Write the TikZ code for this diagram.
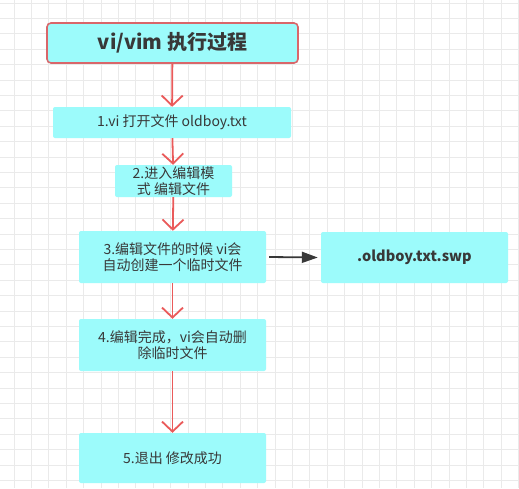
\documentclass[tikz,border=0pt]{standalone}
\usepackage{fontspec}
\setmainfont{Noto Sans CJK SC}
\usepackage{tikz}
\usetikzlibrary{arrows.meta}
\definecolor{boxcyan}{HTML}{9CFBFB}
\definecolor{flowred}{HTML}{EA5A5A}
\definecolor{titlered}{HTML}{D9666A}
\definecolor{textgray}{HTML}{383838}
\definecolor{gridgray}{HTML}{EAEAEA}

\begin{document}
\begin{tikzpicture}[x=1pt, y=-1pt,
	stepbox/.style={fill=boxcyan, rounded corners=2pt, text=textgray,
		inner sep=0pt, align=center, font=\fontsize{14}{16}\selectfont},
	titlebox/.style={stepbox, draw=titlered, line width=1.6pt, rounded corners=4pt,
		font=\fontsize{20}{24}\selectfont\bfseries},
	redarrow/.style={draw=flowred, line width=1.8pt,
		-{Straight Barb[length=10pt, width=21pt, line width=1.8pt]}},
	blackarrow/.style={draw=textgray, line width=1.8pt,
		-{Triangle[length=16pt, width=11pt]}}]
				\useasboundingbox (0,0) rectangle (519,488);
				\fill[white] (0,0) rectangle (519,488);
				% background grid
				\foreach \gx in {0,...,29}
					\draw[gridgray, line width=0.8pt] (14+17.4*\gx,0) -- (14+17.4*\gx,488);
				\foreach \gy in {0,...,31}
					\draw[gridgray, line width=0.8pt] (0,3+15.4*\gy) -- (519,3+15.4*\gy);
				% boxes
				\node[titlebox, minimum width=251pt, minimum height=40pt] (title) at (172.5,43) {vi/vim 执行过程};
				\node[stepbox, minimum width=238pt, minimum height=31pt] (open) at (172,122.5) {1.vi 打开文件 oldboy.txt};
				\node[stepbox, minimum width=117pt, minimum height=32pt] (edit) at (173.5,181) {2.进入编辑模\\式 编辑文件};
				\node[stepbox, minimum width=187pt, minimum height=52pt] (temp) at (172.5,257) {3.编辑文件的时候 vi会\\自动创建一个临时文件};
				\node[stepbox, minimum width=187pt, minimum height=51pt,
					font=\fontsize{14.5}{16}\selectfont\bfseries] (swp) at (414.5,257.5) {.oldboy.txt.swp};
				\node[stepbox, minimum width=187pt, minimum height=52pt] (done) at (172.5,345) {4.编辑完成，vi会自动删\\除临时文件};
				\node[stepbox, minimum width=187pt, minimum height=50pt] (quit) at (172.5,458) {5.退出 修改成功};
				% connectors
				\draw[redarrow] (title) -- (open);
				\draw[redarrow] (open) -- (edit);
				\draw[redarrow] (edit) -- (temp);
				\draw[redarrow] (temp) -- (done);
				\draw[redarrow] (done) -- (quit);
				\draw[blackarrow] ([xshift=3pt]temp.east) -- ([xshift=-3pt]swp.west);
\end{tikzpicture}
\end{document}
